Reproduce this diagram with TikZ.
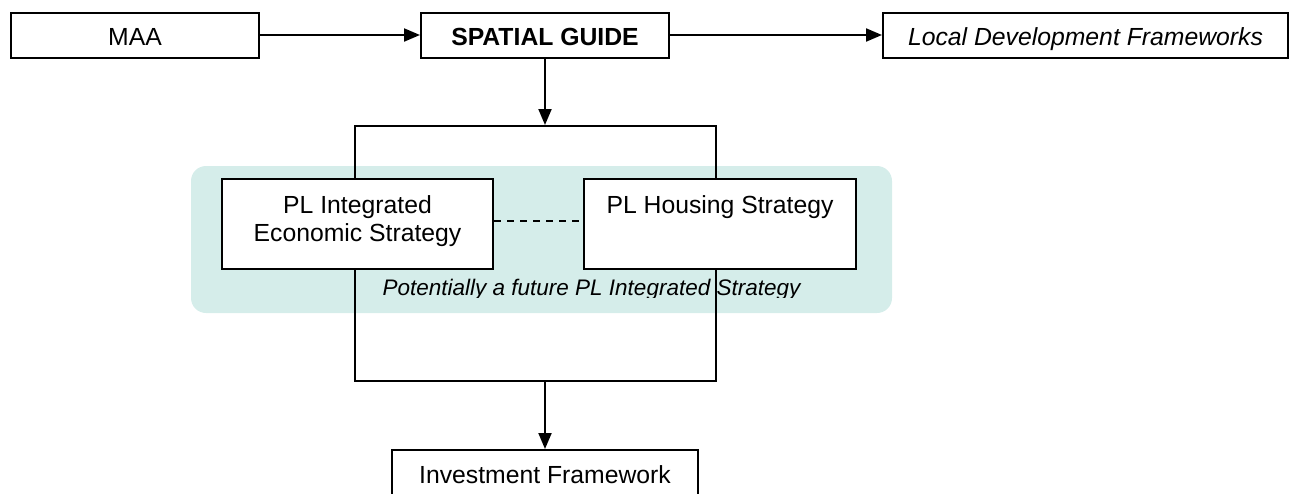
\documentclass[tikz,border=0pt]{standalone}
\usepackage{fontspec}
\setmainfont{Liberation Sans}
\usetikzlibrary{arrows.meta}
\definecolor{tealbg}{RGB}{213,237,234}
\begin{document}
\begin{tikzpicture}[x=1pt,y=1pt,
  every node/.style={font=\fontsize{24.75}{28}\selectfont},
  topbox/.style={draw, line width=2pt, fill=white, inner xsep=0pt, inner ysep=0pt,
    text height=32.7pt, text depth=12.3pt},
  midbox/.style={draw, line width=2pt, fill=white, inner xsep=0pt, inner ysep=0pt, align=center},
  conn/.style={line width=2pt, -{Triangle[length=16pt,width=13pt]}},
  plain/.style={line width=2pt}
]
\useasboundingbox (0,0) rectangle (1289,-493);
% background region
\fill[tealbg, rounded corners=15pt] (191,-166) rectangle (892,-313);
\begin{scope}
  \clip (0,-166) rectangle (1289,-297.5);
  \node[font=\fontsize{22.5}{27}\selectfont\itshape, anchor=base, inner sep=0pt] (cap) at (591.5,-295) {Potentially a future PL Integrated Strategy};
\end{scope}
% bracket rectangle
\node[draw, line width=2pt, minimum width=361pt, minimum height=255pt, inner sep=0pt] (bracket) at (535.5,-253.5) {};
% top row
\node[topbox, minimum width=248pt] (maa) at (135,-35.5) {MAA};
\node[topbox, minimum width=248pt, font=\fontsize{24.75}{28}\selectfont\bfseries] (sg) at (545,-35.5) {SPATIAL GUIDE};
\node[topbox, minimum width=405pt, font=\fontsize{24.75}{28}\selectfont\itshape] (ldf) at (1085.5,-35.5) {Local Development Frameworks};
% middle boxes
\node[midbox, minimum width=271pt, anchor=north, text height=62pt, text depth=28pt] (ies) at (357.5,-178) {PL Integrated\\Economic Strategy};
\node[midbox, minimum width=272pt, anchor=north, text height=34pt, text depth=56pt] (hs) at (720,-178) {PL Housing Strategy};
% bottom box
\node[draw, line width=2pt, fill=white, anchor=north, minimum width=306pt, inner xsep=0pt, inner ysep=0pt, text height=33pt, text depth=40pt] (inv) at (545,-449) {Investment Framework};
% connectors
\draw[conn] ([yshift=0.5pt]maa.east) -- ([yshift=0.5pt]sg.west);
\draw[conn] ([yshift=0.5pt]sg.east) -- ([yshift=0.5pt]ldf.west);
\draw[conn] (sg.south) -- (sg.south |- bracket.north);
\draw[conn] (inv.north |- bracket.south) -- (inv.north);
\draw[plain, dash pattern=on 7pt off 6pt] ([yshift=3pt]ies.east) -- ([yshift=3pt]hs.west);
\end{tikzpicture}
\end{document}
